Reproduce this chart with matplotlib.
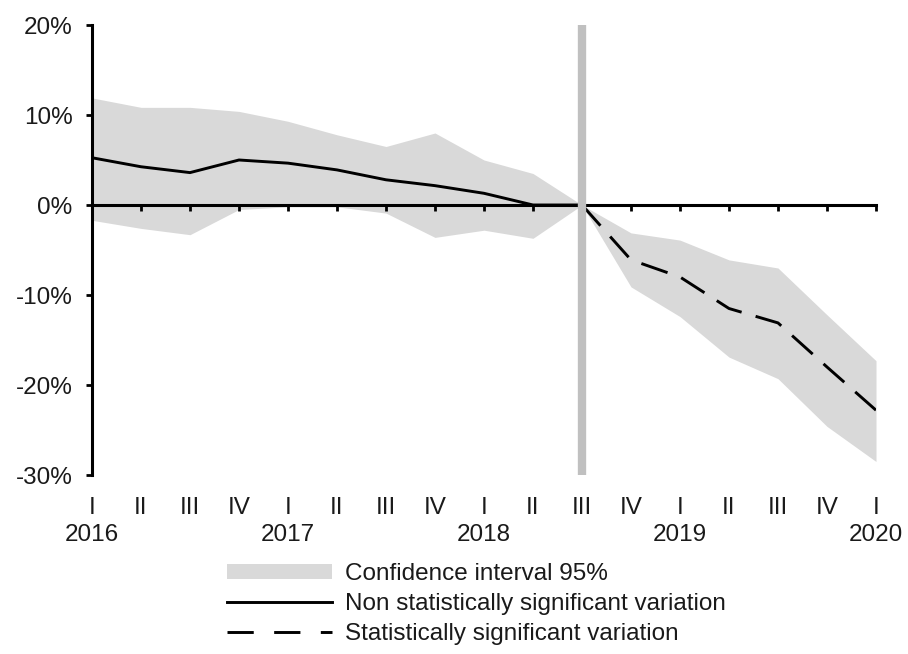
import matplotlib
matplotlib.use("Agg")
import matplotlib.pyplot as plt
from matplotlib.patches import Patch
from matplotlib.lines import Line2D
import numpy as np

plt.rcParams['font.family'] = ['Liberation Sans', 'DejaVu Sans']

quarters = ["I", "II", "III", "IV", "I", "II", "III", "IV", "I", "II", "III",
            "IV", "I", "II", "III", "IV", "I"]
years = ["2016", "2017", "2018", "2019", "2020"]
year_positions = [0, 4, 8, 12, 16]

# Point estimates (%), one per quarter
estimate = [5.25, 4.25, 3.6, 5.0, 4.65, 3.9, 2.8, 2.15, 1.3, 0.0, 0.0,
            -6.1, -8.0, -11.5, -13.1, -18.0, -22.8]
upper_ci = [11.9, 10.85, 10.85, 10.4, 9.3, 7.8, 6.5, 8.0, 5.0, 3.5, 0.0,
            -3.1, -3.9, -6.1, -7.0, -12.2, -17.3]
lower_ci = [-1.7, -2.6, -3.3, -0.5, -0.2, -0.2, -0.9, -3.6, -2.8, -3.7, 0.0,
            -9.1, -12.4, -16.9, -19.3, -24.6, -28.5]
reference_quarter = 10   # 2018 III, base period
yticks = [-30, -20, -10, 0, 10, 20]

W, H = 908, 654
fig = plt.figure(figsize=(W / 100, H / 100), dpi=100)
ax = fig.add_axes([92 / W, 1 - 475 / H, (876 - 92) / W, (475 - 25) / H])

x = np.arange(len(quarters))
ax.fill_between(x, lower_ci, upper_ci, color="#d9d9d9", lw=0, zorder=1)

k = reference_quarter
ax.plot(x[:k + 1], estimate[:k + 1], color="black", lw=2.1,
        solid_joinstyle="round", zorder=4)
ax.plot(x[k:], estimate[k:], color="black", lw=2.1, dashes=(9.5, 5),
        zorder=4)

ax.axvline(reference_quarter, color="#c0c0c0", lw=6, zorder=5)

ax.set_xlim(0, len(quarters) - 1)
ax.set_ylim(-30, 20)

# Axes styling
for s in ("top", "right"):
    ax.spines[s].set_visible(False)
ax.spines["left"].set_linewidth(2.2)
ax.spines["bottom"].set_position(("data", 0))
ax.spines["bottom"].set_linewidth(2.2)
ax.spines["bottom"].set_zorder(3)

ax.set_yticks(yticks)
ax.set_yticklabels([f"{v}%" for v in yticks], fontsize=17.5, color="#1a1a1a")
ax.tick_params(axis="y", direction="out", length=4, width=2, pad=10)
ax.set_xticks(x)
ax.set_xticklabels([])
ax.tick_params(axis="x", direction="out", length=4, width=2)

trans = ax.get_xaxis_transform()
for xi, q in zip(x, quarters):
    ax.text(xi, -0.074, q, transform=trans, ha="center", va="center",
            fontsize=17.5, color="#1a1a1a")
for xi, yr in zip(year_positions, years):
    ax.text(xi, -0.134, yr, transform=trans, ha="center", va="center",
            fontsize=17.5, color="#1a1a1a")

handles = [
    Patch(facecolor="#d9d9d9", edgecolor="none"),
    Line2D([], [], color="black", lw=2.1),
    Line2D([], [], color="black", lw=2.1, dashes=(9, 7)),
]
labels = ["Confidence interval 95%",
          "Non statistically significant variation",
          "Statistically significant variation"]
leg = fig.legend(handles, labels, loc="upper left",
                 bbox_to_anchor=(227 / W, 1 - 563 / H),
                 frameon=False, fontsize=17.5, handlelength=4.3,
                 handleheight=0.6, handletextpad=0.55, labelspacing=0.33,
                 borderpad=0, borderaxespad=0)
for t in leg.get_texts():
    t.set_color("#1a1a1a")

fig.savefig("out.png", dpi=100)
